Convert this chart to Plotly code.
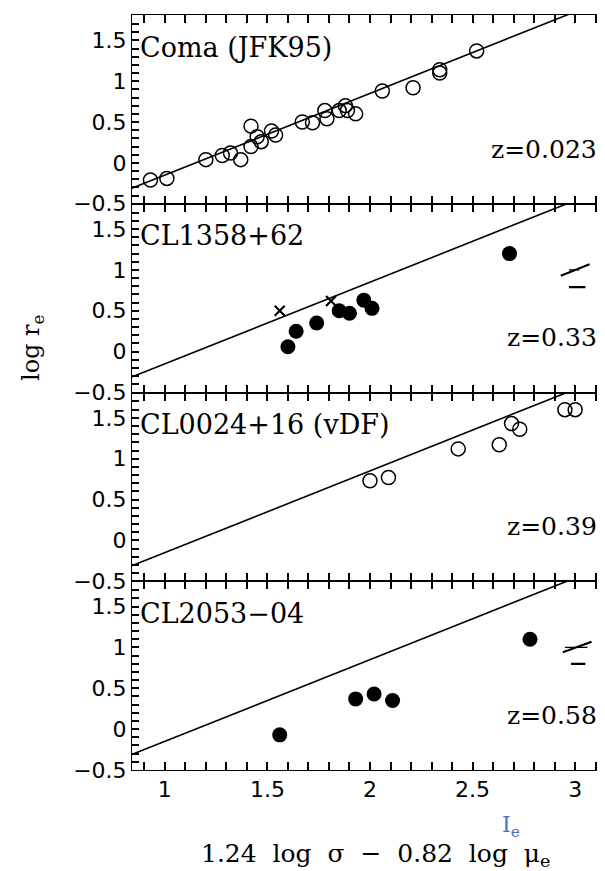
import plotly.graph_objects as go
from plotly.subplots import make_subplots

# ---- data ----
coma_x = [0.93, 1.01, 1.20, 1.28, 1.32, 1.37, 1.42, 1.42, 1.45, 1.47, 1.52, 1.54,
          1.67, 1.72, 1.78, 1.79, 1.85, 1.88, 1.89, 1.93, 2.06, 2.21, 2.34, 2.34, 2.52]
coma_y = [-0.21, -0.19, 0.04, 0.09, 0.12, 0.04, 0.45, 0.20, 0.32, 0.26, 0.39, 0.34,
          0.50, 0.49, 0.64, 0.54, 0.64, 0.70, 0.64, 0.60, 0.88, 0.92, 1.14, 1.10, 1.37]

cl1358_x = [1.60, 1.64, 1.74, 1.85, 1.90, 1.97, 2.01, 2.68]
cl1358_y = [0.06, 0.25, 0.35, 0.50, 0.47, 0.63, 0.53, 1.20]
cl1358_cross_x = [1.56, 1.81]
cl1358_cross_y = [0.50, 0.62]

cl0024_x = [2.00, 2.09, 2.43, 2.63, 2.69, 2.73, 2.95, 3.00]
cl0024_y = [0.73, 0.77, 1.12, 1.17, 1.43, 1.36, 1.60, 1.60]

cl2053_x = [1.56, 1.93, 2.02, 2.11, 2.78]
cl2053_y = [-0.07, 0.37, 0.43, 0.35, 1.10]

# error indicator segments (x0, x1, y0, y1)
err_slant_1358 = [2.93, 3.07, 0.93, 1.07]
err_mid_1358 = [2.97, 3.02, 1.00, 1.00]
err_horiz_1358 = [2.97, 3.05, 0.79, 0.79]
err_slant_2053 = [2.94, 3.08, 0.94, 1.07]
err_mid_2053 = [2.95, 3.06, 1.00, 1.00]
err_horiz_2053 = [2.98, 3.05, 0.80, 0.80]

fp_slope = 1.0
fp_intercept = -1.15
fp_x = [0.80, 3.20]

panel_names = ["Coma (JFK95)", "CL1358+62", "CL0024+16 (vDF)", "CL2053\u221204"]
panel_z = ["z=0.023", "z=0.33", "z=0.39", "z=0.58"]

x_major = {1.0: "1", 1.5: "1.5", 2.0: "2", 2.5: "2.5", 3.0: "3"}
y_major = {-0.5: "\u22120.5", 0.0: "0", 0.5: "0.5", 1.0: "1", 1.5: "1.5"}
x_tickvals = [round(0.9 + 0.1 * i, 1) for i in range(23)]
y_tickvals = [round(-0.5 + 0.1 * i, 1) for i in range(24)]
x_ticktext = [x_major.get(v, "") for v in x_tickvals]
y_ticktext = [y_major.get(v, "") for v in y_tickvals]

# ---- figure ----
fig = make_subplots(rows=4, cols=1, shared_xaxes=True, vertical_spacing=0)

fp_y = [fp_slope * v + fp_intercept for v in fp_x]
for r in range(1, 5):
    fig.add_trace(go.Scatter(x=fp_x, y=fp_y, mode="lines",
                             line=dict(color="black", width=1.6),
                             showlegend=False), row=r, col=1)

open_marker = dict(symbol="circle-open", size=14, color="black", line=dict(width=1.5, color="black"))
filled_marker = dict(symbol="circle", size=15, color="black")

fig.add_trace(go.Scatter(x=coma_x, y=coma_y, mode="markers", marker=open_marker,
                         showlegend=False), row=1, col=1)
fig.add_trace(go.Scatter(x=cl1358_x, y=cl1358_y, mode="markers", marker=filled_marker,
                         showlegend=False), row=2, col=1)
fig.add_trace(go.Scatter(x=cl1358_cross_x, y=cl1358_cross_y, mode="markers",
                         marker=dict(symbol="x-thin", size=10, line=dict(width=2.2, color="black")),
                         showlegend=False), row=2, col=1)
fig.add_trace(go.Scatter(x=cl0024_x, y=cl0024_y, mode="markers", marker=open_marker,
                         showlegend=False), row=3, col=1)
fig.add_trace(go.Scatter(x=cl2053_x, y=cl2053_y, mode="markers", marker=filled_marker,
                         showlegend=False), row=4, col=1)


def seg(s):
    return [s[0], s[1]], [s[2], s[3]]


for r, segs in [(2, [err_slant_1358, err_mid_1358, err_horiz_1358]),
                (4, [err_slant_2053, err_mid_2053, err_horiz_2053])]:
    for i, s in enumerate(segs):
        sx, sy = seg(s)
        fig.add_trace(go.Scatter(x=sx, y=sy, mode="lines",
                                 line=dict(color="black", width=2.2 if i != 1 else 1.2),
                                 showlegend=False), row=r, col=1)

for r in range(1, 5):
    fig.update_xaxes(row=r, col=1, range=[0.84, 3.165], showline=True, linecolor="black",
                     mirror="allticks", ticks="inside", ticklen=8,
                     tickwidth=2, tickcolor="#000000", tickmode="array",
                     tickvals=x_tickvals, ticktext=x_ticktext,
                     showgrid=False, showticklabels=(r == 4))
    fig.update_yaxes(row=r, col=1, range=[-0.5, 1.81], showline=True, linecolor="black",
                     mirror="allticks", ticks="inside", ticklen=7,
                     tickwidth=2, tickcolor="#000000", tickmode="array",
                     tickvals=y_tickvals, ticktext=y_ticktext, showgrid=False)

labfont = dict(family="DejaVu Serif", size=27, color="black")
zfont = dict(family="DejaVu Serif", size=25, color="black")
annotations = []
for i in range(4):
    ax = "" if i == 0 else str(i + 1)
    annotations.append(dict(text=panel_names[i], xref=f"x{ax} domain", yref=f"y{ax} domain",
                            x=0.012, y=0.83, xanchor="left", yanchor="middle",
                            showarrow=False, font=labfont))
    annotations.append(dict(text=panel_z[i], xref=f"x{ax} domain", yref=f"y{ax} domain",
                            x=0.978, y=0.29, xanchor="right", yanchor="middle",
                            showarrow=False, font=zfont))

annotations.append(dict(text="log r<sub>e</sub>", xref="paper", yref="paper",
                        x=-0.21, y=0.56, xanchor="center", yanchor="middle",
                        textangle=-90, showarrow=False,
                        font=dict(family="DejaVu Serif", size=24, color="black")))
annotations.append(dict(text="1.24\u00a0 log\u00a0 \u03c3\u00a0 \u2212\u00a0 0.82\u00a0 log\u00a0 \u03bc<sub>e</sub>",
                        xref="paper", yref="paper", x=0.51, y=-0.112,
                        xanchor="center", yanchor="middle", showarrow=False,
                        font=dict(family="DejaVu Serif", size=25, color="black")))
annotations.append(dict(text="I<sub>e</sub>", xref="paper", yref="paper", x=0.795, y=-0.075,
                        xanchor="center", yanchor="middle", showarrow=False,
                        font=dict(family="DejaVu Serif", size=22, color="#4a6fc9")))

fig.update_layout(width=605, height=871, margin=dict(l=124, r=4, t=7, b=109),
                  font=dict(family="DejaVu Sans", size=22, color="black"),
                  plot_bgcolor="white", paper_bgcolor="white",
                  annotations=annotations, showlegend=False)

fig.write_html("out.html")
